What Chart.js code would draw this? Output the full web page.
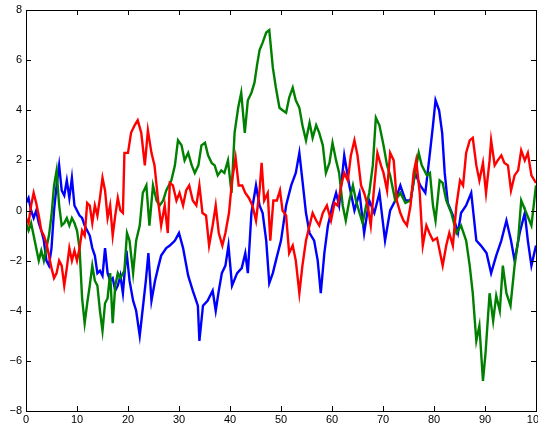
<!DOCTYPE html>
<html>
<head>
<meta charset="utf-8">
<script src="https://cdn.jsdelivr.net/npm/chart.js@4.4.0/dist/chart.umd.min.js"></script>
<style>
  html, body { margin: 0; padding: 0; background: #fff; }
  #wrap { width: 538px; height: 428px; }
</style>
</head>
<body>
<div id="wrap"><canvas id="walkChart" width="538" height="428"></canvas></div>
<script>
// three random walks
var blueX = [0, 0.5, 1, 1.5, 2, 2.5, 3, 3.5, 4, 4.5, 5, 5.5, 6, 6.5, 7, 7.5, 8, 8.5, 9, 9.5, 10, 10.5, 11, 11.5, 12, 12.5, 13, 13.5, 14, 14.5, 15, 15.5, 16, 16.5, 17, 17.5, 18, 18.5, 19, 19.7, 20.3, 21, 21.6, 22.3, 22.9, 23.5, 24, 24.6, 25.3, 26, 26.5, 27.5, 28.2, 29.2, 30, 30.8, 31.8, 32.7, 33.7, 34, 34.7, 35.6, 36.6, 37.2, 37.8, 38.4, 39.1, 39.7, 40.4, 41.4, 42.3, 43, 43.5, 44.2, 45.1, 45.8, 46.4, 47.1, 47.7, 48.4, 49, 50, 51, 52, 52.9, 53.6, 54.2, 54.9, 55.6, 56.5, 57.2, 57.8, 58.5, 59.2, 60.1, 60.8, 61.4, 62.4, 63.4, 64.4, 65.4, 66.3, 67.3, 68.3, 69.3, 70.4, 71.4, 72.4, 73.4, 74.4, 75.4, 76.3, 77.3, 78.3, 79.2, 79.8, 80.3, 81, 81.6, 82.1, 82.7, 83.7, 84.7, 85.3, 86.3, 87.3, 88.3, 89.2, 90.3, 91.2, 92.2, 93.2, 94.2, 95.1, 95.8, 96.8, 97.8, 98.4, 99.1, 100]
var blueY = [0.3, 0.5, 0.0, -0.3, 0.0, -0.5, -0.8, -1.2, -2.0, -2.2, -1.5, 0.0, 1.0, 1.8, 0.8, 0.6, 1.2, 0.5, 1.3, 0.2, 0.0, -0.2, -0.3, -0.6, -0.8, -1.0, -1.5, -1.8, -2.5, -2.4, -2.6, -1.5, -2.5, -2.8, -2.7, -3.2, -3.0, -2.6, -3.3, -1.6, -2.8, -3.6, -4.0, -5.0, -3.9, -2.8, -1.7, -3.6, -2.8, -2.2, -1.8, -1.5, -1.4, -1.2, -0.9, -1.5, -2.6, -3.2, -3.8, -5.2, -3.8, -3.6, -3.2, -4.0, -3.2, -2.5, -2.2, -1.4, -3.0, -2.5, -2.3, -1.7, -2.5, -0.1, 1.0, 0.2, -0.1, -1.2, -2.9, -2.5, -2.0, -1.2, 0.2, 1.0, 1.5, 2.3, 1.2, -0.1, -0.9, -1.2, -2.0, -3.3, -1.7, -0.6, 0.2, 0.7, 0.2, 2.2, 1.0, 0.0, 0.7, -0.9, 0.4, -0.1, 0.7, -1.2, 0.0, 0.4, 1.0, 0.4, 0.4, 1.5, 1.0, 0.7, 2.3, 3.4, 4.4, 4.0, 3.1, 1.5, 0.3, -0.2, -0.9, -0.1, 0.2, 0.7, -1.2, -1.4, -1.7, -2.5, -1.8, -1.2, -0.4, -1.2, -2.0, -0.9, -0.1, -1.2, -2.2, -1.4]

var greenX = [0, 0.5, 1, 1.5, 2, 2.5, 3, 3.5, 4, 4.5, 5, 5.5, 6, 6.5, 7, 7.5, 8, 8.5, 9, 9.5, 10, 10.5, 11, 11.5, 12, 12.5, 13, 13.5, 14, 14.5, 15, 15.5, 16, 16.5, 17, 17.5, 18, 18.5, 19.3, 19.8, 20.3, 21, 21.6, 22.3, 22.9, 23.6, 24.2, 24.9, 25.6, 26.2, 26.9, 27.5, 28.5, 29.2, 29.8, 30.5, 31.1, 31.8, 32.5, 33.1, 33.8, 34.4, 35.1, 35.7, 36.4, 37, 37.6, 38.3, 38.9, 39.6, 40.3, 40.9, 41.6, 42.2, 42.9, 43.5, 44.2, 44.8, 45.3, 45.8, 46.4, 47.1, 47.7, 48.4, 49, 49.7, 50.3, 51, 51.6, 52.3, 52.9, 53.6, 54.2, 54.9, 55.6, 56.2, 56.9, 57.5, 58.2, 58.8, 59.5, 60.1, 60.8, 61.4, 62.1, 62.7, 63.4, 64.1, 64.7, 65.4, 66, 66.7, 67.3, 68, 68.6, 69.3, 70.1, 70.8, 71.4, 72.4, 73.4, 74.4, 75.4, 76.3, 77, 77.6, 78.6, 79.2, 79.8, 80.3, 81.1, 81.7, 82.4, 83.4, 84.4, 85.3, 86.3, 87, 87.6, 88.3, 88.9, 89.6, 90.1, 90.9, 91.6, 92.2, 92.9, 93.5, 94.2, 95, 95.8, 96.5, 97.1, 98.1, 99.1, 100]
var greenY = [-0.5, -0.8, -0.5, -1.0, -1.5, -2.0, -1.6, -2.0, -1.5, -1.0, -0.2, 1.0, 1.6, 0.2, -0.6, -0.5, -0.3, -0.6, -0.3, -0.5, -0.8, -1.5, -3.5, -4.5, -3.7, -3.0, -2.2, -2.8, -3.0, -4.0, -4.8, -3.7, -3.5, -2.5, -4.5, -3.0, -2.5, -2.7, -2.4, -0.9, -1.2, -2.5, -1.2, -0.6, 0.7, 1.0, -0.6, 1.0, 0.4, 0.2, 0.4, 0.8, 1.2, 1.8, 2.8, 2.6, 2.0, 2.3, 1.8, 1.5, 1.8, 2.6, 2.7, 2.2, 1.9, 1.8, 1.4, 1.6, 1.5, 2.0, 0.7, 3.1, 4.1, 4.7, 3.1, 4.4, 4.7, 5.1, 5.8, 6.4, 6.7, 7.1, 7.2, 5.7, 4.9, 4.1, 4.0, 3.9, 4.5, 4.9, 4.4, 4.1, 3.4, 2.8, 3.5, 2.9, 3.4, 3.1, 2.6, 1.5, 1.9, 2.7, 2.0, 1.5, 0.2, -0.4, 0.4, 1.0, 0.4, -0.1, -0.5, 0.2, 0.7, 1.8, 3.7, 3.4, 2.6, 1.8, 1.4, 0.4, 0.7, 0.3, 0.4, 1.5, 2.3, 1.8, 1.4, 1.5, 0.2, -0.4, 1.2, 1.1, 0.4, -0.1, -0.9, -0.6, -1.2, -2.2, -3.3, -5.2, -4.6, -6.8, -5.7, -3.3, -4.4, -3.4, -4.0, -2.2, -3.3, -3.8, -2.2, -1.2, 0.4, -0.1, -0.6, 1.0]

var redX = [0, 0.5, 1, 1.5, 2, 2.5, 3, 3.5, 4, 4.5, 5, 5.5, 6, 6.5, 7, 7.5, 8, 8.5, 9, 9.5, 10, 10.5, 11, 11.5, 12, 12.5, 13, 13.5, 14, 14.5, 15, 15.5, 16, 16.5, 17, 17.5, 18, 18.5, 19, 19.3, 20, 20.6, 21.3, 21.9, 22.6, 23.3, 23.9, 24.6, 25.2, 25.9, 26.5, 27.2, 27.8, 28.2, 28.8, 29.5, 30.1, 30.8, 31.4, 32, 32.7, 33.4, 34, 34.6, 35.3, 35.9, 36.6, 37.2, 37.8, 38.5, 39.1, 39.8, 40.4, 41.1, 41.7, 42.4, 43, 43.7, 44.4, 45.1, 45.8, 46.2, 46.7, 47.4, 47.9, 48.5, 49.2, 49.8, 50.3, 51, 51.6, 52.3, 52.9, 53.6, 54.2, 54.9, 55.6, 56.2, 56.9, 57.5, 58.2, 59, 59.8, 60.5, 61.1, 61.8, 62.4, 63.1, 63.7, 64.4, 65, 65.7, 66.3, 67, 67.6, 68.3, 68.9, 69.6, 70.1, 70.8, 71.4, 72.1, 72.7, 73.4, 74, 74.7, 75.4, 76, 76.5, 77.2, 77.8, 78.5, 79.1, 79.8, 80.6, 81.2, 81.7, 82.4, 83, 83.7, 84.4, 85.1, 85.7, 86.3, 87, 87.6, 88.3, 88.9, 89.6, 90.2, 90.9, 91.2, 91.9, 92.5, 93.2, 93.8, 94.5, 95.1, 95.8, 96.5, 97.1, 97.8, 98.4, 99.1, 100]
var redY = [-0.3, -0.5, 0.2, 0.7, 0.3, -0.2, -0.8, -1.0, -1.3, -1.8, -2.3, -2.7, -2.5, -2.0, -2.2, -3.0, -2.3, -1.5, -2.0, -1.6, -2.0, -1.5, -0.8, -1.0, 0.3, 0.2, -0.5, 0.2, -0.2, 0.5, 1.3, 0.8, -0.3, 0.2, -1.0, -0.2, 0.5, 0.0, -0.1, 2.3, 2.3, 3.1, 3.4, 3.6, 3.1, 1.8, 3.2, 2.3, 1.8, 0.4, -0.6, 0.2, -0.9, 1.1, 1.0, 0.4, 0.7, 0.2, 0.8, 1.0, 0.4, 0.2, 1.0, -0.1, -0.2, -1.4, -0.6, 0.2, -0.9, -1.4, -0.9, -0.1, 1.2, 2.1, 1.0, 1.0, 0.7, 0.5, 0.2, -0.4, 0.8, 1.9, 0.4, 0.7, -1.2, 0.4, 0.4, 0.8, 0.0, -0.2, -1.7, -1.4, -2.0, -3.3, -2.2, -1.2, -0.6, -0.1, -0.4, -0.6, -0.1, 0.2, -0.4, 0.3, 0.2, 1.0, 1.5, 1.2, 2.2, 2.8, 2.2, 1.0, 0.7, 0.2, -0.6, 1.0, 2.3, 1.8, 1.5, 0.8, 2.3, 2.0, 0.4, -0.1, -0.4, -0.6, 0.2, 1.5, 2.0, 0.7, -1.4, -0.6, -0.9, -1.2, -1.1, -1.7, -2.2, -1.4, -0.9, -1.4, 0.2, 1.2, 1.0, 2.3, 2.8, 2.9, 1.8, 1.2, 1.9, 0.7, 2.0, 2.8, 1.8, 2.0, 2.2, 1.9, 1.8, 0.8, 1.4, 1.6, 2.4, 2.0, 2.3, 1.4, 1.1]

var xTicks = [0, 10, 20, 30, 40, 50, 60, 70, 80, 90, 100]
var yTicks = [-8, -6, -4, -2, 0, 2, 4, 6, 8]

function toPoints(xs, ys) {
  return xs.map(function (x, i) { return { x: x, y: ys[i] } })
}

function walkDataset(xs, ys, colour, order) {
  return {
    data: toPoints(xs, ys),
    borderColor: colour,
    backgroundColor: colour,
    borderWidth: 2.4,
    pointRadius: 0,
    tension: 0,
    fill: false,
    order: order
  }
}

// matlab style box with inward ticks on all four sides
var boxPlugin = {
  id: 'matlabBox',
  afterDatasetsDraw: function (chart) {
    var ctx = chart.ctx
    var a = chart.chartArea
    var xs = chart.scales.x
    var ys = chart.scales.y
    var len = 5
    ctx.save()
    ctx.strokeStyle = '#000'
    ctx.lineWidth = 1
    ctx.beginPath()
    xTicks.forEach(function (v) {
      var px = Math.round(xs.getPixelForValue(v)) + 0.5
      ctx.moveTo(px, a.bottom); ctx.lineTo(px, a.bottom - len)
      ctx.moveTo(px, a.top); ctx.lineTo(px, a.top + len)
    })
    yTicks.forEach(function (v) {
      var py = Math.round(ys.getPixelForValue(v)) + 0.5
      ctx.moveTo(a.left, py); ctx.lineTo(a.left + len, py)
      ctx.moveTo(a.right, py); ctx.lineTo(a.right - len, py)
    })
    ctx.stroke()
    ctx.strokeRect(Math.round(a.left) + 0.5, Math.round(a.top) + 0.5,
      Math.round(a.right - a.left), Math.round(a.bottom - a.top))
    ctx.restore()
  }
}

var tickFont = { family: '"Liberation Sans", Arial, Helvetica, sans-serif', size: 11 }

var ctx = document.getElementById('walkChart').getContext('2d')
var walkChart = new Chart(ctx, {
  type: 'line',
  data: {
    datasets: [
      walkDataset(blueX, blueY, '#0000ff', 2),
      walkDataset(greenX, greenY, '#008000', 1),
      walkDataset(redX, redY, '#ff0000', 0)
    ]
  },
  options: {
    responsive: false,
    animation: false,
    layout: {
      autoPadding: false,
      padding: { top: 10, right: 2, left: 0, bottom: 0 }
    },
    plugins: {
      legend: { display: false },
      tooltip: { enabled: false }
    },
    scales: {
      x: {
        type: 'linear',
        min: 0,
        max: 100,
        afterFit: function (scale) {
          scale.height = 17
          scale.paddingLeft = 0
          scale.paddingRight = 0
        },
        afterBuildTicks: function (scale) {
          scale.ticks = xTicks.map(function (v) { return { value: v } })
        },
        grid: { display: false, drawTicks: false },
        border: { display: false },
        ticks: {
          font: tickFont,
          color: '#000',
          padding: 2,
          maxRotation: 0,
          autoSkip: false
        }
      },
      y: {
        type: 'linear',
        min: -8,
        max: 8,
        afterFit: function (scale) {
          scale.width = 26
          scale.paddingTop = 0
          scale.paddingBottom = 0
        },
        afterBuildTicks: function (scale) {
          scale.ticks = yTicks.map(function (v) { return { value: v } })
        },
        grid: { display: false, drawTicks: false },
        border: { display: false },
        ticks: {
          font: tickFont,
          color: '#000',
          padding: 4,
          autoSkip: false,
          callback: function (value) {
            return String(value).replace('-', '\u2212')
          }
        }
      }
    }
  },
  plugins: [boxPlugin]
})
</script>
</body>
</html>
